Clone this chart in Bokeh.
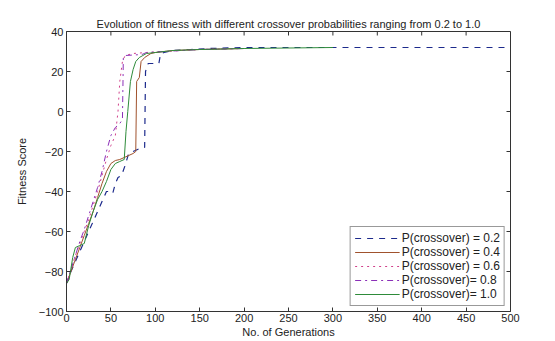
from bokeh.plotting import figure
from bokeh.models import Range1d, FixedTicker, Legend, LegendItem
from bokeh.embed import file_html
from bokeh.resources import INLINE

# ---- data (generation, best fitness) ----
g02 = [0, 5, 10, 15, 20, 25, 30, 35, 40, 45, 48, 52, 55, 58, 62, 66, 70, 75, 80, 85, 88, 89, 92, 100, 104, 106, 110, 120, 140, 160, 200, 300, 500]
v02 = [-86, -80, -75, -70, -65, -60, -55, -50, -45, -40, -40, -41, -36, -33, -32, -27, -21, -20, -19, -18, -18, 20, 24, 24, 24, 29, 29.5, 30.5, 31, 31.5, 32, 32, 32]

g04 = [0, 5, 10, 15, 20, 25, 30, 35, 40, 45, 50, 55, 60, 65, 70, 75, 78, 79, 82, 84, 88, 95, 100, 120, 150, 200]
v04 = [-86, -80, -74, -68, -62, -56, -50, -43, -36, -30, -26, -24.5, -24, -23, -22, -21, -20, 15, 17, 25, 27, 29, 29.5, 30.5, 31, 31.5]

g06 = [0, 5, 10, 15, 20, 25, 30, 35, 40, 45, 50, 55, 58, 60, 63, 66, 75, 90, 110, 150, 200]
v06 = [-86, -79, -72, -66, -60, -54, -47, -40, -32, -24, -17, -12, 0, 15, 25, 28, 29, 29.5, 30, 31, 31.5]

g08 = [0, 5, 10, 15, 20, 25, 30, 35, 40, 45, 50, 55, 60, 63, 64, 66, 85, 90, 110, 150, 200]
v08 = [-86, -79, -72, -65, -59, -52, -45, -38, -30, -20, -12, -8, -6, -4, 27, 28, 28.5, 29.5, 30, 31, 31.5]

g10 = [0, 3, 7, 10, 15, 20, 25, 30, 35, 40, 45, 50, 55, 60, 65, 67, 69, 72, 75, 78, 82, 86, 90, 100, 120, 150, 200, 300]
v10 = [-86, -84, -73, -68, -67, -66, -57, -50, -44, -40, -35, -29, -26, -25, -24, -10, 0, 15, 21, 25, 27, 28, 29, 29.5, 30.5, 31, 31.5, 32]

labels = ["P(crossover) = 0.2", "P(crossover) = 0.4", "P(crossover) = 0.6",
          "P(crossover)= 0.8", "P(crossover)= 1.0"]
x_ticks = [0, 50, 100, 150, 200, 250, 300, 350, 400, 450, 500]
y_ticks = [-100, -80, -60, -40, -20, 0, 20, 40]

FONT = "Liberation Sans"
X0, X1, Y0, Y1 = 0, 500, -100, 40

p = figure(width=555, height=341, output_backend="svg", toolbar_location=None,
           x_range=Range1d(X0, X1), y_range=Range1d(Y0, Y1),
           min_border_left=66, min_border_right=45, min_border_top=31, min_border_bottom=30,
           title="Evolution of fitness with different crossover probabilities ranging from 0.2 to 1.0")
p.title.align = "center"
p.title.text_font = FONT
p.title.text_font_size = "11px"
p.title.text_font_style = "normal"
p.title.text_color = "#222222"
p.title.standoff = 4

p.grid.visible = False
p.outline_line_color = "#333333"
p.outline_line_width = 1
p.background_fill_color = "white"
p.border_fill_color = "white"

for ax in (p.xaxis[0], p.yaxis[0]):
    ax.major_tick_in = 4
    ax.major_tick_out = 0
    ax.minor_tick_line_color = None
    ax.axis_line_color = "#333333"
    ax.major_tick_line_color = "#333333"
    ax.major_label_text_font = FONT
    ax.major_label_text_font_size = "11px"
    ax.major_label_text_color = "#222222"
    ax.axis_label_text_font = FONT
    ax.axis_label_text_font_size = "11px"
    ax.axis_label_text_font_style = "normal"
    ax.axis_label_text_color = "#222222"

p.xaxis[0].ticker = FixedTicker(ticks=x_ticks)
p.yaxis[0].ticker = FixedTicker(ticks=y_ticks)
p.xaxis[0].axis_label = "No. of Generations"
p.yaxis[0].axis_label = "Fitness Score"
p.xaxis[0].axis_label_standoff = 1
p.yaxis[0].axis_label_standoff = 8
p.xaxis[0].major_label_standoff = 2
p.yaxis[0].major_label_standoff = 3

# mirrored inward ticks on top and right (MATLAB "box on")
tick_dy = (Y1 - Y0) * 4 / 280.0
tick_dx = (X1 - X0) * 4 / 444.0
p.segment(x0=x_ticks, y0=[Y1] * len(x_ticks), x1=x_ticks, y1=[Y1 - tick_dy] * len(x_ticks),
          line_color="#333333", line_width=1)
p.segment(x0=[X1] * len(y_ticks), y0=y_ticks, x1=[X1 - tick_dx] * len(y_ticks), y1=y_ticks,
          line_color="#333333", line_width=1)

series = [
    (g02, v02, "#1c2a8c", "dashed", 1.2),
    (g04, v04, "#a0522d", "solid", 1.0),
    (g06, v06, "#d0408a", "dotted", 1.0),
    (g08, v08, "#8b30b8", "dashdot", 1.0),
    (g10, v10, "#2e8b3a", "solid", 1.0),
]
items = []
for (gx, gy, col, dash, lw), lab in zip(series, labels):
    r = p.line(gx, gy, line_color=col, line_dash=dash, line_width=lw)
    items.append(LegendItem(label=lab, renderers=[r]))

leg = Legend(items=items, location="bottom_right")
leg.label_text_font = FONT
leg.label_text_font_size = "12px"
leg.label_text_color = "#222222"
leg.glyph_width = 45
leg.glyph_height = 14
leg.label_height = 14
leg.label_standoff = 2
leg.spacing = 0
leg.padding = 4
leg.margin = 5
leg.border_line_color = "#333333"
leg.background_fill_alpha = 1
p.add_layout(leg)

open("out.html", "w").write(file_html(p, INLINE))
